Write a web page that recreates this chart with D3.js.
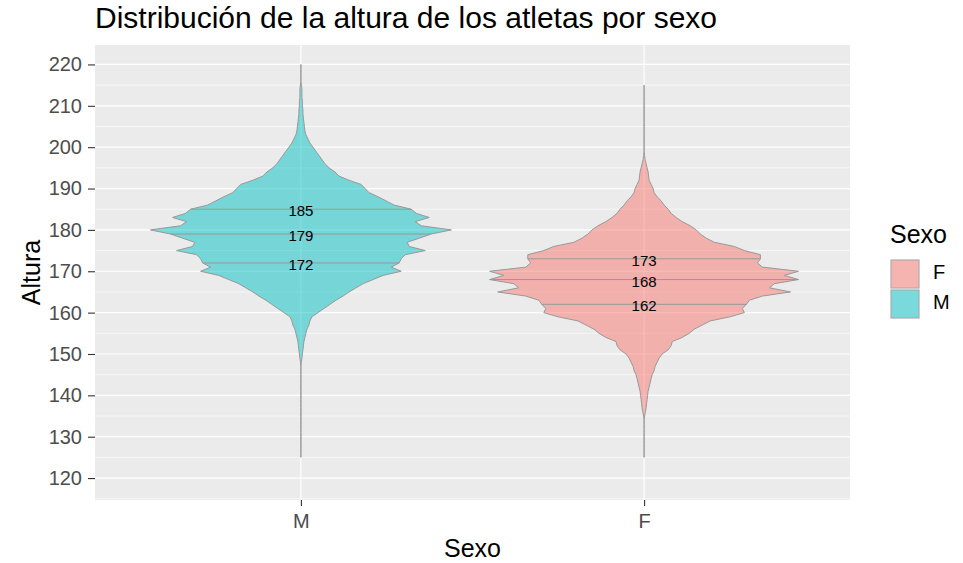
<!DOCTYPE html>
<html>
<head>
<meta charset="utf-8">
<script src="https://cdn.jsdelivr.net/npm/d3@7"></script>
<style>
  body { margin: 0; background: #fff; }
  text { font-family: "Liberation Sans", Arial, sans-serif; }
</style>
</head>
<body>
<svg id="chart" width="963" height="563"></svg>
<script>
// categorias del eje x y de la leyenda
var sexos = ["M", "F"];
var leyenda = ["F", "M"];
var colores = { F: "#F8766D", M: "#00BFC4" };

// alturas donde se leyo la densidad (ancho medio del violin)
var rangoM = [125, 220];
var rangoF = [125, 215];

// densidad relativa de M, de 125 a 220 cm
var densM = [0, 0, 0, 0, 0, 0, 0, 0, 0, 0, 0, 0, 0, 0, 0, 0, 0, 0, 0, 0, 0, 0, 0,
  0.5, 1, 1.5, 2, 2.5, 3, 4, 5, 6, 8, 9, 11, 17, 23, 29, 35, 42, 48, 55, 62, 72, 82,
  100, 90, 98, 100, 104, 124, 108, 106, 118, 130, 150, 120, 114, 128, 115, 110,
  93, 85, 77, 68, 64, 60, 48, 38, 34, 28, 24, 21, 18, 15, 12, 9, 7, 5, 4, 3.5, 3,
  2.5, 2, 2, 1.5, 1.5, 1, 1, 1, 0.5, 0, 0, 0, 0, 0];

// densidad relativa de F, de 125 a 215 cm
var densF = [0, 0, 0, 0, 0, 0, 0, 0, 0, 0,
  0.5, 1.3, 2, 2.5, 3, 3.5, 4, 5, 6, 7, 8, 10, 11, 13, 15, 18, 24, 27, 28, 38, 45,
  50, 58, 66, 86, 100, 98, 102, 105, 118, 146, 125, 130, 154, 140, 154, 118, 113,
  116, 116, 100, 90, 70, 62, 56, 52, 46, 38, 32, 27, 24, 20, 17, 13, 10, 9, 7, 5,
  4.5, 4, 3, 2, 1, 0.5,
  0, 0, 0, 0, 0, 0, 0, 0, 0, 0, 0, 0, 0, 0, 0, 0, 0];

// cuartiles (25, 50, 75 %)
var cuartilesM = [172, 179, 185];
var cuartilesF = [162, 168, 173];

var yTicks = [120, 130, 140, 150, 160, 170, 180, 190, 200, 210, 220];
var yMinor = [115, 125, 135, 145, 155, 165, 175, 185, 195, 205, 215];

var svg = d3.select("#chart");
var panel = { left: 95, right: 850, top: 45, bottom: 500 };

var x = d3.scalePoint().domain(sexos).range([panel.left, panel.right]).padding(0.6);
var y = d3.scaleLinear().domain([114.7, 224.7]).range([panel.bottom, panel.top]);
var w = d3.scaleLinear().domain([0, 154]).range([0, x.step() * 0.45]);

// fondo del panel
svg.append("rect")
  .attr("x", panel.left).attr("y", panel.top)
  .attr("width", panel.right - panel.left).attr("height", panel.bottom - panel.top)
  .attr("fill", "#EBEBEB");

// rejilla menor y mayor
svg.append("g").selectAll("line").data(yMinor).join("line")
  .attr("x1", panel.left).attr("x2", panel.right)
  .attr("y1", d => y(d)).attr("y2", d => y(d))
  .attr("stroke", "#fff").attr("stroke-width", 0.6);
svg.append("g").selectAll("line").data(yTicks).join("line")
  .attr("x1", panel.left).attr("x2", panel.right)
  .attr("y1", d => y(d)).attr("y2", d => y(d))
  .attr("stroke", "#fff").attr("stroke-width", 1.2);
svg.append("g").selectAll("line").data(sexos).join("line")
  .attr("x1", d => x(d)).attr("x2", d => x(d))
  .attr("y1", panel.top).attr("y2", panel.bottom)
  .attr("stroke", "#fff").attr("stroke-width", 1.2);

var grupos = [
  { sexo: "M", dens: densM, rango: rangoM, q: cuartilesM },
  { sexo: "F", dens: densF, rango: rangoF, q: cuartilesF }
];

grupos.forEach(function (g) {
  var cx = x(g.sexo);
  var pts = g.dens.map(function (d, i) { return { h: g.rango[0] + i, d: d }; });

  var area = d3.area()
    .y(p => y(p.h))
    .x0(p => cx - w(p.d))
    .x1(p => cx + w(p.d));

  svg.append("path")
    .datum(pts)
    .attr("d", area)
    .attr("fill", colores[g.sexo])
    .attr("fill-opacity", 0.5)
    .attr("stroke", "#999")
    .attr("stroke-width", 1);

  // lineas de cuartiles
  var dAt = function (h) {
    var i = Math.floor(h) - g.rango[0];
    var t = h - Math.floor(h);
    var a = g.dens[i], b = g.dens[Math.min(i + 1, g.dens.length - 1)];
    return a + (b - a) * t;
  };
  svg.append("g").selectAll("line").data(g.q).join("line")
    .attr("x1", q => cx - w(dAt(q))).attr("x2", q => cx + w(dAt(q)))
    .attr("y1", q => y(q)).attr("y2", q => y(q))
    .attr("stroke", "#999").attr("stroke-width", 1);

  svg.append("g").selectAll("text").data(g.q).join("text")
    .attr("x", cx).attr("y", q => y(q) + 3)
    .attr("text-anchor", "middle")
    .attr("dominant-baseline", "middle")
    .attr("font-size", "15px")
    .attr("fill", "#000")
    .text(q => q);
});

// ejes
var yAxis = svg.append("g")
  .attr("transform", "translate(" + panel.left + ",0)")
  .call(d3.axisLeft(y).tickValues(yTicks).tickSize(7).tickPadding(6));
var xAxis = svg.append("g")
  .attr("transform", "translate(0," + panel.bottom + ")")
  .call(d3.axisBottom(x).tickSize(6).tickPadding(7.5));
[yAxis, xAxis].forEach(function (a) {
  a.select(".domain").remove();
  a.selectAll(".tick line").attr("stroke", "#333").attr("stroke-width", 1.1);
  a.selectAll(".tick text").attr("fill", "#4D4D4D").attr("font-size", "20px")
    .attr("font-family", "Liberation Sans, Arial, sans-serif");
});

// titulos
svg.append("text")
  .attr("x", 95).attr("y", 28)
  .attr("font-size", "30px").attr("fill", "#000")
  .text("Distribución de la altura de los atletas por sexo");
svg.append("text")
  .attr("x", (panel.left + panel.right) / 2).attr("y", 557)
  .attr("text-anchor", "middle")
  .attr("font-size", "25px").attr("fill", "#000")
  .text("Sexo");
svg.append("text")
  .attr("transform", "translate(40," + ((panel.top + panel.bottom) / 2) + ") rotate(-90)")
  .attr("text-anchor", "middle")
  .attr("font-size", "25px").attr("fill", "#000")
  .text("Altura");

// leyenda
var leg = svg.append("g").attr("transform", "translate(890,0)");
leg.append("text")
  .attr("x", 0).attr("y", 243)
  .attr("font-size", "25px").attr("fill", "#000")
  .text("Sexo");
var key = leg.selectAll("g.key").data(leyenda).join("g")
  .attr("class", "key")
  .attr("transform", (d, i) => "translate(0," + (259 + i * 30) + ")");
key.append("rect")
  .attr("width", 30).attr("height", 30)
  .attr("fill", "#F2F2F2");
key.append("rect")
  .attr("x", 1).attr("y", 1).attr("width", 28).attr("height", 28)
  .attr("fill", d => colores[d]).attr("fill-opacity", 0.5)
  .attr("stroke", "#A8A8A8").attr("stroke-width", 1);
key.append("text")
  .attr("x", 43).attr("y", 15)
  .attr("dominant-baseline", "middle")
  .attr("font-size", "20px").attr("fill", "#000")
  .text(d => d);
</script>
</body>
</html>
